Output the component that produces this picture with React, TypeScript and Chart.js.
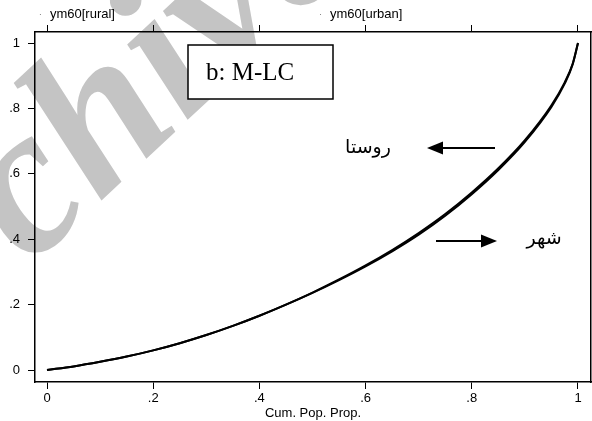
import React, { useEffect, useRef } from "react";
import { Chart, registerables } from "chart.js";

Chart.register(...registerables);

// Cumulative population proportion (x) and cumulative income share (y)
const popProp = [0, 0.05, 0.1, 0.15, 0.2, 0.25, 0.3, 0.35, 0.4, 0.45, 0.5, 0.55, 0.6, 0.65, 0.7, 0.75, 0.8, 0.85, 0.9, 0.95, 0.975, 0.99, 1];
const ruralShare = [0, 0.011, 0.025, 0.041, 0.06, 0.082, 0.107, 0.135, 0.166, 0.2, 0.237, 0.277, 0.32, 0.367, 0.419, 0.477, 0.543, 0.617, 0.703, 0.81, 0.88, 0.937, 1];
const urbanShare = [0, 0.011, 0.025, 0.041, 0.06, 0.082, 0.107, 0.135, 0.166, 0.2, 0.236, 0.275, 0.317, 0.363, 0.414, 0.472, 0.538, 0.612, 0.698, 0.805, 0.876, 0.935, 1];

const xTicks = [0, 0.2, 0.4, 0.6, 0.8, 1];
const yTicks = [0, 0.2, 0.4, 0.6, 0.8, 1];
const seriesNames = ["ym60[rural]", "ym60[urban]"];
const panelTitle = "b: M-LC";
const ruralLabel = "روستا";
const urbanLabel = "شهر";
const xTitle = "Cum. Pop. Prop.";
const watermark = "Archive";

const SANS = "'Liberation Sans', Arial, sans-serif";

const fmt = (v: number) => {
  const r = Math.round(v * 10) / 10;
  if (r === 0) return "0";
  if (r === 1) return "1";
  return String(r).replace(/^0\./, ".");
};

const fixTicks = (vals: number[]) => (scale: any) => {
  scale.ticks = vals.map((v) => ({ value: v }));
};

const watermarkPlugin = {
  id: "watermark",
  beforeDraw(chart: any) {
    const ctx = chart.ctx;
    ctx.save();
    ctx.translate(-132, 418);
    ctx.rotate((-43 * Math.PI) / 180);
    ctx.font = "italic bold 210px 'Liberation Serif', serif";
    ctx.fillStyle = "#c4c4c4";
    ctx.textBaseline = "alphabetic";
    ctx.fillText(watermark, 0, 0);
    ctx.restore();
  },
};

function arrow(ctx: CanvasRenderingContext2D, x0: number, x1: number, y: number) {
  // shaft from x0 to the head tip at x1
  const dir = Math.sign(x1 - x0);
  const headLen = 16;
  const half = 6.5;
  ctx.beginPath();
  ctx.moveTo(x0, y);
  ctx.lineTo(x1 - dir * headLen, y);
  ctx.lineWidth = 2;
  ctx.strokeStyle = "#000";
  ctx.stroke();
  ctx.beginPath();
  ctx.moveTo(x1, y);
  ctx.lineTo(x1 - dir * headLen, y - half);
  ctx.lineTo(x1 - dir * headLen, y + half);
  ctx.closePath();
  ctx.fillStyle = "#000";
  ctx.fill();
}

const notesPlugin = {
  id: "notes",
  afterDraw(chart: any) {
    const ctx: CanvasRenderingContext2D = chart.ctx;
    const xs = chart.scales.x;
    ctx.save();

    // series captions above the frame
    ctx.font = `13px ${SANS}`;
    ctx.textBaseline = "middle";
    ctx.textAlign = "left";
    const capX = [xs.getPixelForValue(0.0055), xs.getPixelForValue(0.533)];
    seriesNames.forEach((name, i) => {
      ctx.fillStyle = "#888";
      ctx.fillRect(capX[i] - 10, 14, 1, 1);
      ctx.fillStyle = "#000";
      ctx.fillText(name, capX[i], 14);
    });

    // panel label box
    ctx.fillStyle = "#fff";
    ctx.fillRect(188, 45, 145, 54);
    ctx.lineWidth = 1.5;
    ctx.strokeStyle = "#000";
    ctx.strokeRect(188, 45, 145, 54);
    ctx.fillStyle = "#000";
    ctx.font = "25px 'Liberation Serif', 'Times New Roman', serif";
    ctx.textBaseline = "alphabetic";
    ctx.textAlign = "left";
    ctx.fillText(panelTitle, 206, 80);

    // group labels with arrows
    ctx.font = `19px 'DejaVu Sans', sans-serif`;
    ctx.textBaseline = "middle";
    ctx.textAlign = "center";
    ctx.fillText(ruralLabel, 368, 148);
    arrow(ctx, 495, 427, 148);
    ctx.fillText(urbanLabel, 544, 239);
    arrow(ctx, 436, 497, 241);

    ctx.restore();
  },
};

export default function App() {
  const ref = useRef<HTMLCanvasElement>(null);

  useEffect(() => {
    if (!ref.current) return;
    const toPts = (ys: number[]) => popProp.map((x, i) => ({ x, y: ys[i] }));
    const chart = new Chart(ref.current, {
      type: "line",
      data: {
        datasets: [
          {
            label: seriesNames[0],
            data: toPts(ruralShare),
            borderColor: "#000",
            borderWidth: 2,
            pointRadius: 0,
            cubicInterpolationMode: "monotone",
          },
          {
            label: seriesNames[1],
            data: toPts(urbanShare),
            borderColor: "#000",
            borderWidth: 2,
            pointRadius: 0,
            cubicInterpolationMode: "monotone",
          },
        ],
      },
      options: {
        responsive: false,
        animation: false,
        layout: { padding: 0 },
        plugins: { legend: { display: false }, tooltip: { enabled: false } },
        scales: {
          x: {
            type: "linear",
            position: "bottom",
            min: -0.0226,
            max: 1.0245,
            afterBuildTicks: fixTicks(xTicks),
            afterFit: (s: any) => {
              s.height = 39;
            },
            grid: { drawOnChartArea: false, tickLength: 7, color: "#000", lineWidth: 1 },
            border: { display: true, color: "#000", width: 1.5 },
            ticks: { color: "#000", font: { size: 13, family: SANS }, padding: 2, maxRotation: 0, callback: (v: any) => fmt(Number(v)) },
            title: { display: true, text: xTitle, color: "#000", font: { size: 13, family: SANS }, padding: { top: 0, bottom: 0 } },
          },
          x2: {
            type: "linear",
            position: "top",
            min: -0.0226,
            max: 1.0245,
            afterBuildTicks: fixTicks(xTicks),
            afterFit: (s: any) => {
              s.height = 32;
            },
            grid: { drawOnChartArea: false, tickLength: 7, color: "#000", lineWidth: 1 },
            border: { display: true, color: "#000", width: 1.5 },
            ticks: { display: false },
          },
          y: {
            type: "linear",
            position: "left",
            min: -0.0367,
            max: 1.034,
            afterBuildTicks: fixTicks(yTicks),
            afterFit: (s: any) => {
              s.width = 35;
            },
            grid: { drawOnChartArea: false, tickLength: 7, color: "#000", lineWidth: 1 },
            border: { display: true, color: "#000", width: 1.5 },
            ticks: { color: "#000", font: { size: 13, family: SANS }, padding: 8, callback: (v: any) => fmt(Number(v)) },
          },
          y2: {
            type: "linear",
            position: "right",
            min: -0.0367,
            max: 1.034,
            afterFit: (s: any) => {
              s.width = 1;
            },
            grid: { display: false, drawTicks: false },
            border: { display: true, color: "#000", width: 1.5 },
            ticks: { display: false },
          },
        },
      },
      plugins: [watermarkPlugin, notesPlugin],
    } as any);
    return () => chart.destroy();
  }, []);

  return (
    <div style={{ position: "absolute", left: 0, top: 0, width: 592, height: 421, background: "#fff" }}>
      <canvas ref={ref} width={592} height={421} style={{ width: 592, height: 421, display: "block" }} />
    </div>
  );
}
